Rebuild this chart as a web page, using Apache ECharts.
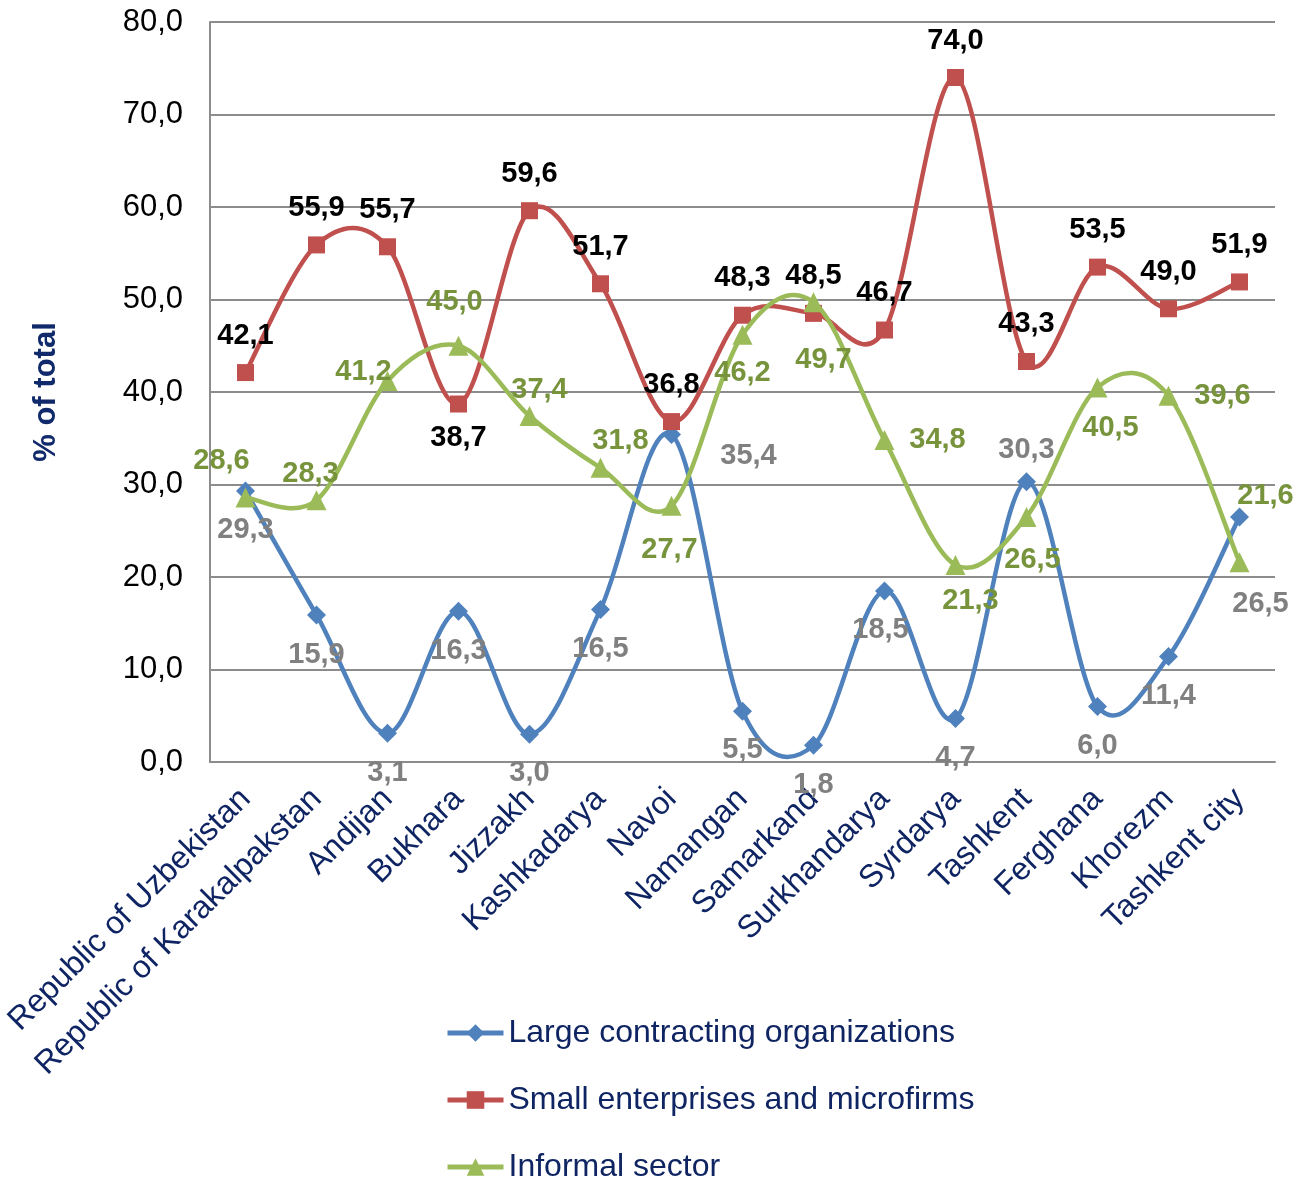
<!DOCTYPE html>
<html><head><meta charset="utf-8">
<script src="https://cdn.jsdelivr.net/npm/echarts@6/dist/echarts.min.js"></script>
<style>html,body{margin:0;padding:0;background:#fff}#c{width:1308px;height:1178px}</style>
</head><body><div id="c"></div>
<script>
const categories = ['Republic of Uzbekistan','Republic of Karakalpakstan','Andijan','Bukhara','Jizzakh','Kashkadarya','Navoi','Namangan','Samarkand','Surkhandarya','Syrdarya','Tashkent','Ferghana','Khorezm','Tashkent city'];
const largeOrgs = [29.3,15.9,3.1,16.3,3.0,16.5,35.4,5.5,1.8,18.5,4.7,30.3,6.0,11.4,26.5];
const smallFirms = [42.1,55.9,55.7,38.7,59.6,51.7,36.8,48.3,48.5,46.7,74.0,43.3,53.5,49.0,51.9];
const informal = [28.6,28.3,41.2,45.0,37.4,31.8,27.7,46.2,49.7,34.8,21.3,26.5,40.5,39.6,21.6];
const yTicks = [0,10,20,30,40,50,60,70,80];

// label placement offsets (px) relative to each point
const largeOff = [[0,39],[0,40],[0,40],[0,40],[0,39],[0,40],[77,21],[0,39],[0,40],[-4,39],[0,39],[0,-32],[0,39],[0,39],[21,87]];
const smallOff = [[0,-37],[0,-37],[0,-37],[0,34],[0,-37],[0,-37],[0,-37],[0,-37],[0,-37],[0,-37],[0,-37],[0,-37],[0,-37],[0,-37],[0,-37]];
const infOff = [[-24,-36],[-6,-26],[-24,-9],[-4,-44],[10,-26],[20,-27],[-2,44],[0,38],[10,58],[53,0],[15,36],[6,43],[13,41],[54,0],[26,-66]];

const fmt = v => Number(v).toFixed(1).replace('.', ',');
const FONT = 'Liberation Sans, Arial, sans-serif';
const NAVY = '#0f2462';

function mk(vals, offs){ return vals.map((v,i)=>({value:v, label:{offset:offs[i]}})); }

// smooth curve (Catmull-Rom style bezier) through the points placed by the axes
function curve(vals, color, z){
  return {
    type:'custom', name:'_c'+z, coordinateSystem:'cartesian2d', z, silent:true,
    data:[[0, vals[0]]],
    renderItem:(params, api)=>{
      const p = vals.map((v,i)=>api.coord([i, v]));
      const n = p.length;
      let d = 'M' + p[0][0] + ',' + p[0][1];
      for (let i=0;i<n-1;i++){
        const a = p[i-1] || p[i], b = p[i], c = p[i+1], e = p[i+2] || p[i+1];
        const c1x = b[0] + (c[0]-a[0])/6, c1y = b[1] + (c[1]-a[1])/6;
        const c2x = c[0] - (e[0]-b[0])/6, c2y = c[1] - (e[1]-b[1])/6;
        d += ' C' + c1x + ',' + c1y + ' ' + c2x + ',' + c2y + ' ' + c[0] + ',' + c[1];
      }
      return {type:'path', shape:{pathData:d}, style:{fill:null, stroke:color, lineWidth:4.5, lineJoin:'round'}};
    }
  };
}

function series(name, vals, offs, color, symbol, size, labelColor, z){
  return {
    name, type:'line', data: mk(vals, offs), z,
    symbol, symbolSize:size,
    lineStyle:{color, width:0, opacity:0}, itemStyle:{color},
    label:{show:true, position:'inside', formatter:p=>fmt(p.value), color:labelColor,
      fontFamily:FONT, fontWeight:'bold', fontSize:29}
  };
}

const chart = echarts.init(document.getElementById('c'), null, {renderer:'canvas'});
chart.setOption({
  animation:false,
  backgroundColor:'#fff',
  grid:{left:210, right:33, top:22, bottom:416, containLabel:false},
  legend:{
    orient:'vertical', left:440, top:1012, height:220, itemGap:35, itemWidth:56, itemHeight:22,
    lineStyle:{width:5, opacity:1},
    textStyle:{fontFamily:FONT, fontSize:32, color:NAVY},
    data:['Large contracting organizations','Small enterprises and microfirms','Informal sector']
  },
  xAxis:{
    type:'category', data:categories, boundaryGap:true,
    axisLine:{lineStyle:{color:'#8c8c8c', width:2}},
    axisTick:{show:false},
    axisLabel:{rotate:45, interval:0, margin:32, fontFamily:FONT, fontSize:32, color:NAVY}
  },
  yAxis:{
    type:'value', min:yTicks[0], max:yTicks[yTicks.length-1], interval:10,
    name:'% of total', nameLocation:'middle', nameGap:148, nameRotate:90,
    nameTextStyle:{fontFamily:FONT, fontSize:31, fontWeight:'bold', color:'#102a6b'},
    axisLine:{show:true, lineStyle:{color:'#8c8c8c', width:2}},
    axisTick:{show:false},
    splitLine:{lineStyle:{color:'#8c8c8c', width:2}},
    axisLabel:{formatter:v=>fmt(v), fontFamily:FONT, fontSize:31, color:'#000', margin:27}
  },
  series:[
    curve(largeOrgs, '#4f81bd', 1),
    series('Large contracting organizations', largeOrgs, largeOff, '#4f81bd', 'diamond', 19, '#808080', 2),
    curve(smallFirms, '#c0504d', 3),
    series('Small enterprises and microfirms', smallFirms, smallOff, '#c0504d', 'rect', 17, '#000000', 4),
    curve(informal, '#9bbb59', 5),
    series('Informal sector', informal, infOff, '#9bbb59', 'triangle', 20, '#77933c', 6)
  ]
});
</script></body></html>
